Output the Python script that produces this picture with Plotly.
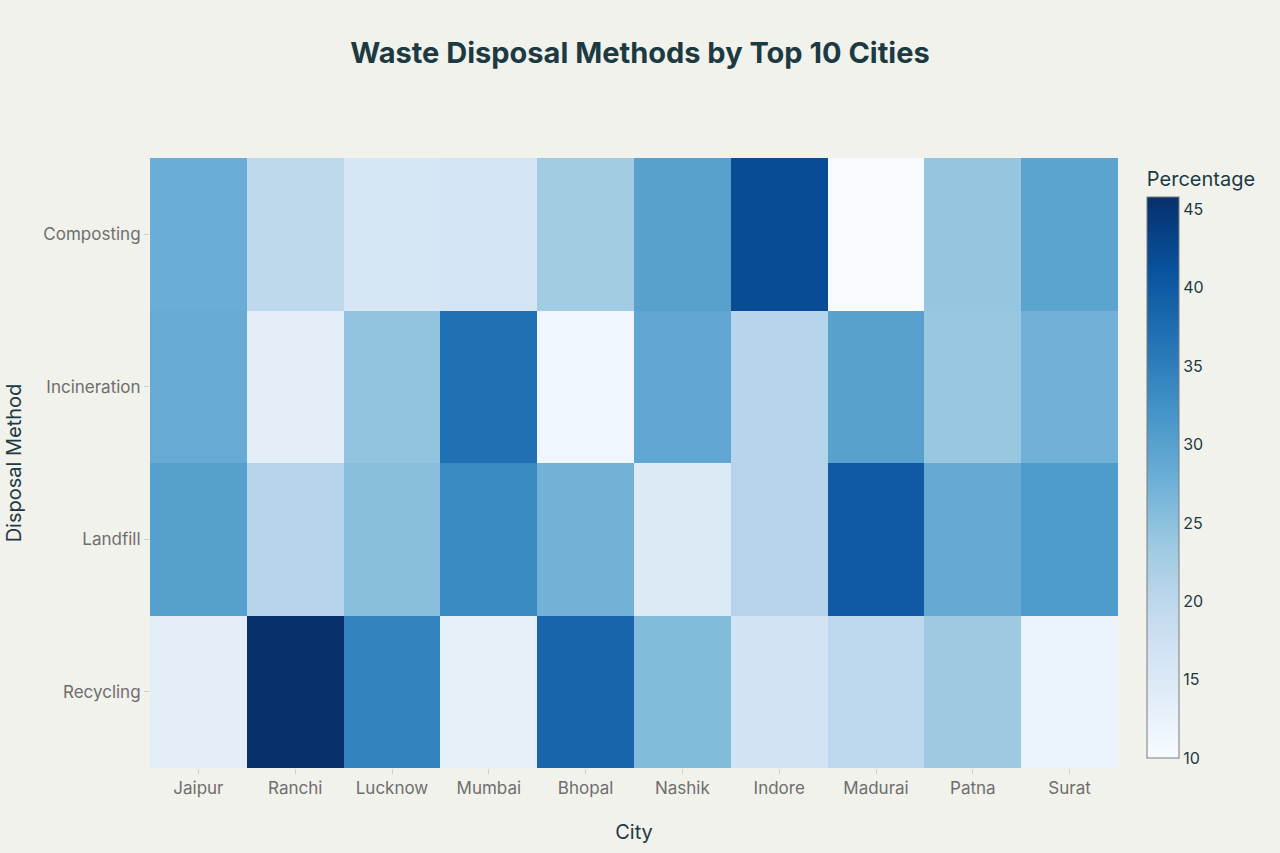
import plotly.graph_objects as go

cities = ["Jaipur", "Ranchi", "Lucknow", "Mumbai", "Bhopal", "Nashik", "Indore", "Madurai", "Patna", "Surat"]
methods = ["Composting", "Incineration", "Landfill", "Recycling"]

composting = [28.0, 19.8, 15.8, 16.3, 23.0, 30.0, 42.0, 10.0, 24.2, 29.5]
incineration = [28.3, 13.5, 24.4, 37.0, 11.3, 29.1, 20.6, 30.0, 23.9, 27.4]
landfill = [30.2, 20.8, 25.3, 33.5, 27.3, 14.8, 20.8, 40.0, 28.5, 31.0]
recycling = [13.5, 45.8, 34.4, 13.2, 38.5, 25.8, 16.6, 20.0, 23.4, 12.1]

z = [composting, incineration, landfill, recycling]

title_color = "#1c3a41"
tick_color = "#6e6e6e"
bg = "#f2f2ed"
font_family = "Inter, 'Liberation Sans', sans-serif"

fig = go.Figure(
    go.Heatmap(
        z=z,
        x=cities,
        y=methods,
        colorscale="Blues",
        colorbar=dict(
            title=dict(text="Percentage", font=dict(size=20, color=title_color), side="top"),
            tickfont=dict(size=16, color=title_color),
            outlinecolor="#7a7a7a",
            outlinewidth=1,
            thickness=32,
            x=1.02,
            xanchor="left",
            tickvals=[10, 15, 20, 25, 30, 35, 40, 45],
        ),
        hovertemplate="City: %{x}<br>Method: %{y}<br>Percentage: %{z:.1f}<extra></extra>",
    )
)

fig.update_layout(
    width=1280,
    height=853,
    paper_bgcolor=bg,
    plot_bgcolor=bg,
    font=dict(family=font_family, color=title_color),
    title=dict(
        text="<b>Waste Disposal Methods by Top 10 Cities</b>",
        x=0.5,
        xanchor="center",
        y=0.938,
        yanchor="middle",
        font=dict(size=29, color=title_color, family=font_family),
    ),
    margin=dict(l=150, r=162, t=158, b=85),
    xaxis=dict(
        title=dict(text="City", font=dict(size=20, color=title_color), standoff=27),
        tickfont=dict(size=17, color=tick_color),
        ticks="outside",
        ticklen=5,
        tickcolor="#cfcfcf",
        showgrid=False,
        zeroline=False,
    ),
    yaxis=dict(
        title=dict(text="Disposal Method", font=dict(size=20, color=title_color), standoff=16),
        tickfont=dict(size=17, color=tick_color),
        ticks="outside",
        ticklen=5,
        tickcolor="#cfcfcf",
        autorange="reversed",
        showgrid=False,
        zeroline=False,
        automargin=False,
    ),
)

fig.write_html("out.html")
